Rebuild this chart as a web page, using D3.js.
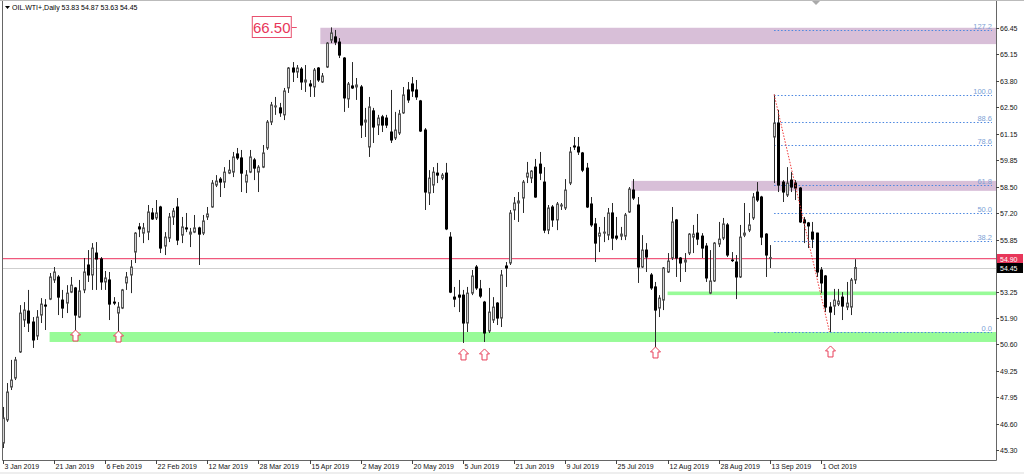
<!DOCTYPE html>
<html><head><meta charset="utf-8">
<script src="https://cdn.jsdelivr.net/npm/d3@7/dist/d3.min.js"></script>
<style>body{margin:0;background:#fff;overflow:hidden}svg{display:block;font-family:"Liberation Sans",Arial,sans-serif}</style>
</head><body><svg id="c" width="1024" height="474"></svg>
<script>
// ---- data: daily OHLC, OIL.WTI+, one row per bar from 3 Jan 2019 ----
const ohlc = [
[45.65,47.46,45.40,46.91],[46.81,48.66,46.71,48.21],[48.46,49.82,48.31,48.81],[48.91,49.97,48.81,49.82],[50.22,52.57,50.17,52.17],
[51.82,52.72,51.47,52.32],[52.27,53.33,51.22,51.67],[51.72,51.97,50.42,50.82],[51.02,52.32,50.82,51.97],[52.07,52.92,51.67,52.62],
[52.57,52.87,51.32,52.52],[52.87,54.18,52.82,53.98],[53.83,54.48,53.68,54.23],[53.98,54.08,52.07,52.97],[52.82,53.33,51.92,52.42],
[52.67,53.57,52.17,53.17],[53.22,53.98,53.17,53.57],[53.43,53.48,51.22,52.07],[51.97,53.83,51.92,53.28],[53.33,54.93,53.17,54.23],
[54.58,55.33,53.73,54.08],[54.08,55.68,53.33,55.43],[55.18,55.73,53.33,54.88],[54.88,54.98,53.33,53.73],[53.73,54.28,53.33,53.93],
[53.83,54.23,51.82,52.62],[52.72,52.97,52.57,52.67],[52.17,52.72,51.22,52.47],[52.42,53.38,52.37,53.33],[53.68,54.23,53.33,53.98],
[54.08,54.83,53.17,54.48],[55.23,56.23,54.68,56.18],[56.49,56.69,55.98,56.39],[56.18,56.69,55.68,56.44],[56.23,57.59,55.83,57.24],
[57.19,57.44,56.84,56.89],[56.94,57.84,56.84,57.19],[57.49,57.55,55.18,55.43],[55.53,56.23,55.08,55.98],[55.93,57.19,55.73,56.99],
[56.99,57.44,56.59,57.29],[57.49,57.94,55.58,55.83],[56.08,56.99,55.68,56.49],[56.44,57.19,56.23,56.39],[56.13,56.44,55.48,56.23],
[56.23,57.09,56.18,56.44],[56.44,56.50,54.58,56.13],[56.18,57.09,56.08,56.79],[56.99,57.49,56.84,57.14],[57.49,58.84,57.45,58.69],
[58.59,59.09,58.49,58.79],[58.89,58.99,57.99,58.74],[58.74,59.49,58.44,59.24],[59.19,59.85,59.14,59.34],[59.24,60.25,58.99,60.00],
[60.15,60.45,59.85,59.95],[59.95,60.35,58.24,59.19],[58.74,59.34,58.19,59.09],[59.24,60.35,59.19,60.00],[59.85,59.95,58.84,59.44],
[59.24,59.59,58.24,59.49],[59.49,60.60,59.44,60.20],[60.45,61.85,60.35,61.75],[61.75,62.76,61.60,62.61],[62.51,63.01,62.11,62.56],
[62.46,62.71,62.01,62.21],[62.11,63.46,61.85,63.31],[63.46,64.51,63.21,64.46],[64.46,64.76,63.76,64.26],[64.26,64.61,63.96,64.46],
[64.41,64.51,63.36,63.76],[63.76,64.61,63.26,63.86],[63.66,63.86,63.01,63.56],[63.51,64.46,63.01,64.36],[64.46,64.51,63.76,63.86],
[63.76,64.21,63.71,64.06],[64.51,65.76,64.46,65.71],[65.86,66.50,65.71,66.22],[66.02,66.37,65.61,65.76],[65.76,65.96,64.96,65.11],
[64.96,65.01,62.26,62.96],[62.91,63.76,62.46,63.66],[63.56,64.76,63.41,63.46],[63.51,63.96,62.86,63.61],[63.51,63.61,60.95,61.60],
[61.75,62.46,61.00,61.85],[60.50,63.01,60.00,62.51],[62.31,62.46,60.70,61.50],[61.60,62.11,61.10,61.95],[62.01,62.11,61.25,61.60],
[61.95,62.11,61.45,61.60],[61.25,63.36,60.70,60.85],[60.95,62.26,60.85,61.35],[61.20,62.36,61.10,62.16],[62.21,63.51,62.16,63.11],
[63.36,63.76,62.71,62.86],[63.66,64.01,63.01,63.31],[63.36,63.86,62.86,63.01],[62.81,62.86,61.25,61.30],[61.35,61.45,57.34,58.24],
[58.19,59.34,57.59,58.94],[58.59,59.49,58.19,59.24],[59.19,59.70,58.69,59.09],[58.94,59.19,58.84,59.09],[59.19,59.70,56.33,56.39],
[55.98,56.23,53.17,53.22],[52.97,53.48,52.47,52.87],[53.07,53.83,52.22,52.97],[53.07,53.33,50.67,51.67],[51.67,53.48,51.22,53.17],
[53.17,54.33,53.07,54.03],[54.48,54.58,53.33,53.43],[53.38,53.83,52.92,53.02],[52.72,52.78,50.72,51.17],[51.27,53.43,51.17,52.22],
[51.82,52.97,51.67,52.47],[52.67,52.72,51.57,51.92],[51.92,54.33,51.47,54.08],[54.53,54.73,53.48,54.43],[54.68,57.34,54.58,57.19],
[57.34,57.99,56.84,57.69],[57.69,58.24,56.74,57.79],[57.94,58.84,57.19,58.74],[58.99,59.75,58.69,59.19],[58.94,59.34,58.69,59.29],
[59.49,59.90,57.95,57.99],[59.64,60.25,58.84,59.19],[58.74,59.49,56.18,56.33],[56.33,57.59,56.13,57.44],[57.49,57.59,56.49,56.84],
[56.84,57.74,56.33,57.64],[57.54,57.69,57.34,57.59],[57.44,58.89,57.34,58.34],[58.69,60.50,58.59,60.25],[60.55,61.00,60.35,60.50],
[60.50,61.00,60.10,60.25],[60.20,60.25,59.24,59.34],[59.44,59.70,57.44,57.49],[57.64,57.99,56.49,56.59],[56.64,56.94,54.73,55.68],
[56.03,56.49,55.23,56.18],[56.18,56.99,55.73,56.23],[56.08,57.44,55.83,57.19],[57.19,57.69,55.33,55.93],[56.03,56.99,55.83,55.93],
[56.03,56.49,55.83,56.13],[56.03,57.19,55.83,57.09],[57.24,58.49,57.19,58.39],[58.34,58.89,57.84,57.94],[57.59,57.99,53.68,54.48],
[54.48,56.08,54.43,55.33],[55.33,55.68,54.23,54.98],[54.08,54.18,53.33,53.43],[53.48,53.73,50.47,52.32],[52.42,53.07,51.97,52.92],
[52.82,54.48,52.32,54.43],[54.23,55.18,54.18,54.78],[54.93,57.49,54.83,56.74],[56.84,56.89,53.98,54.93],[54.93,54.98,53.73,54.68],
[54.73,55.18,54.23,54.83],[55.18,56.18,55.08,56.13],[55.98,56.59,55.18,56.13],[56.18,57.14,55.58,55.88],[56.03,56.18,54.93,55.43],
[55.53,55.68,53.73,53.93],[53.17,55.33,53.12,53.78],[53.78,55.73,53.73,55.68],[55.63,56.74,55.48,55.88],[55.93,56.94,55.83,56.64],
[56.59,56.69,54.98,55.08],[54.83,55.23,54.73,54.81],[54.73,55.08,52.87,53.98],[53.98,56.59,53.93,55.98],[56.08,57.69,55.98,56.18],
[56.33,57.19,56.23,56.59],[56.94,58.19,56.84,57.99],[58.24,58.74,57.74,57.84],[57.99,58.05,55.58,55.98],[56.13,56.18,53.98,55.08],
[54.93,55.58,54.43,54.95],[61.00,63.13,58.69,61.70],[61.70,62.36,58.24,58.59],[58.74,58.84,57.74,58.24],[58.09,59.49,57.99,58.69],
[58.84,59.24,58.24,58.49],[58.69,58.84,57.84,58.44],[58.44,58.49,56.69,56.74],[56.84,56.99,55.68,56.69],[56.69,56.74,55.43,56.54],
[56.23,56.74,55.43,55.88],[56.18,56.20,53.98,54.23],[54.33,54.48,53.17,53.68],[54.03,54.08,52.22,52.47],[52.47,52.72,51.22,52.22],
[52.52,53.38,52.07,52.82],[52.62,53.38,52.52,52.77],[52.97,53.22,51.82,52.52],[52.47,53.73,52.32,52.67],[52.47,53.93,52.07,53.83],
[53.83,54.87,53.63,54.45]
];
// date labels on the time axis, one every 12 bars
const dateLabels = ["3 Jan 2019","21 Jan 2019","6 Feb 2019","22 Feb 2019","12 Mar 2019","28 Mar 2019","15 Apr 2019","2 May 2019",
  "20 May 2019","5 Jun 2019","21 Jun 2019","9 Jul 2019","25 Jul 2019","12 Aug 2019","28 Aug 2019","13 Sep 2019","1 Oct 2019"];
const dateLabelEvery = 12;
// price axis tick labels
const priceTicks = [66.45,65.15,63.80,62.50,61.15,59.85,58.50,57.20,55.85,53.25,51.90,50.60,49.25,47.95,46.60,45.30];
// supply (purple) and demand (green) zones: [start bar, upper price, lower price]
const supplyZones = [[75,66.48,65.66],[148,58.80,58.30]];
const demandZones = [[11,51.22,50.72],[156,53.25,53.07]];
// up-arrow markers: bar index and price of tip
const arrowBars = [17,27,108,113,153,194];
const arrowPrices = [51.32,51.27,50.37,50.37,50.47,50.52];
// fibonacci retracement: anchors (bar, price) and levels
const fibHigh = [181,63.13], fibLow = [194,51.22];
const fibLevels = [0,38.2,50,61.8,78.6,88.6,100,127.2];
const alertLine = 54.90, bidLine = 54.45;
const peakLabel = {bar:69, price:66.50, text:"66.50"};
const title = "OIL.WTI+,Daily  53.83 54.87 53.63 54.45";

// ---- drawing ----
const svg = d3.select("#c");
const L = 2, R = 996, T = 0, B = 460;
const x = d3.scaleLinear().domain([0, ohlc.length - 1]).range([2.7, 855.1]);
const y = d3.scaleLinear().domain([44.80, 67.17]).range([B, 14]);

svg.append("defs").append("clipPath").attr("id","pc").append("rect")
  .attr("x",L).attr("y",T).attr("width",R-L).attr("height",B-T);
const g = svg.append("g").attr("clip-path","url(#pc)");

// zones
g.selectAll("rect.sz").data(supplyZones).join("rect").attr("class","sz")
  .attr("x",d=>x(d[0])-2).attr("y",d=>y(d[1])).attr("width",d=>R-x(d[0])+2).attr("height",d=>y(d[2])-y(d[1]))
  .attr("fill","#d8bfd8");
g.selectAll("rect.dz").data(demandZones).join("rect").attr("class","dz")
  .attr("x",d=>x(d[0])).attr("y",d=>y(d[1])).attr("width",d=>R-x(d[0])).attr("height",d=>y(d[2])-y(d[1]))
  .attr("fill","#98fb98");

// fib levels
const fibRange = fibHigh[1] - fibLow[1];
const fx0 = x(fibHigh[0]);
fibLevels.forEach(lv => {
  const p = fibLow[1] + fibRange * lv / 100;
  const yy = Math.round(y(p)) + 0.5;
  g.append("line").attr("x1",fx0).attr("x2",R-4).attr("y1",yy).attr("y2",yy)
    .attr("stroke","#4a86e0").attr("stroke-width",1).attr("stroke-dasharray","1.5,2");
  g.append("text").attr("x",R-4).attr("y",yy-1.5).attr("text-anchor","end")
    .attr("font-size",7.5).attr("fill","#7d9fd6").text(lv.toFixed(1));
});

// horizontal lines
g.append("line").attr("x1",L).attr("x2",R).attr("y1",Math.round(y(bidLine))+0.5).attr("y2",Math.round(y(bidLine))+0.5)
  .attr("stroke","#cfcfcf");
g.append("line").attr("x1",L).attr("x2",R).attr("y1",y(alertLine)).attr("y2",y(alertLine))
  .attr("stroke","#f0587c").attr("stroke-width",1.3);

// candles
const cx = i => Math.round(x(i));
const cg = g.append("g");
cg.selectAll("line.w").data(ohlc).join("line").attr("class","w")
  .attr("x1",(d,i)=>cx(i)+0.5).attr("x2",(d,i)=>cx(i)+0.5)
  .attr("y1",d=>y(d[1])).attr("y2",d=>y(d[2]))
  .attr("stroke","#2a2a2a").attr("stroke-width",1);
cg.selectAll("rect.b").data(ohlc).join("rect").attr("class","b")
  .attr("x",(d,i)=>cx(i)-0.5).attr("width",2)
  .attr("y",d=>y(Math.max(d[0],d[3])))
  .attr("height",d=>Math.max(0.6, Math.abs(y(d[0])-y(d[3]))))
  .attr("fill",d=>d[3]>=d[0] ? "#d4d4d4" : "#000")
  .attr("stroke",d=>d[3]>=d[0] ? "#555" : "#000").attr("stroke-width",1);

// red dotted trend line across the fib swing
g.append("line").attr("x1",x(fibHigh[0])).attr("y1",y(fibHigh[1])).attr("x2",x(fibLow[0])).attr("y2",y(fibLow[1]))
  .attr("stroke","#f03a3a").attr("stroke-width",1).attr("stroke-dasharray","1.5,1.5");

// arrows
arrowBars.forEach((b,k) => {
  const ax = cx(b)+0.5, ay = y(arrowPrices[k]);
  g.append("path").attr("transform",`translate(${ax},${ay})`)
    .attr("d","M0,0L5,5L2.5,5L2.5,11L-2.5,11L-2.5,5L-5,5Z")
    .attr("fill","#fff").attr("stroke","#e8405a").attr("stroke-width",1);
});

// peak price label
{
  const px = x(peakLabel.bar), py = y(peakLabel.price);
  g.append("line").attr("x1",px-5).attr("x2",px).attr("y1",Math.round(py)+0.5).attr("y2",Math.round(py)+0.5)
    .attr("stroke","#e8506e");
  g.append("rect").attr("x",px-44.5).attr("y",Math.round(py)-10.5).attr("width",39).attr("height",21)
    .attr("fill","#fff").attr("stroke","#e8506e");
  g.append("text").attr("x",px-25).attr("y",Math.round(py)+5.5).attr("text-anchor","middle")
    .attr("font-size",15).attr("fill","#e8365a").text(peakLabel.text);
}

// frame
svg.append("path").attr("d",`M${L+0.5},${T}V${B+0.5}H${R+0.5}V${T}`).attr("fill","none").attr("stroke","#666");
svg.append("rect").attr("x",0).attr("y",0).attr("width",1024).attr("height",1).attr("fill","#bbb");

// price axis
const ya = svg.append("g");
priceTicks.forEach(p => {
  const yy = Math.round(y(p)) + 0.5;
  ya.append("line").attr("x1",R).attr("x2",R+3).attr("y1",yy).attr("y2",yy).attr("stroke","#444");
  ya.append("text").attr("x",R+4).attr("y",yy+2.5).attr("font-size",7).attr("fill","#111").text(p.toFixed(2));
});
[[alertLine,"#e8365a"],[bidLine,"#000"]].forEach(([p,c]) => {
  const yy = Math.round(y(p));
  ya.append("rect").attr("x",R+1).attr("y",yy-5).attr("width",26).attr("height",10).attr("fill",c);
  ya.append("text").attr("x",R+4).attr("y",yy+2.5).attr("font-size",7).attr("fill","#fff").text(p.toFixed(2));
});

// time axis
const xa = svg.append("g");
dateLabels.forEach((t,k) => {
  const xx = cx(k*dateLabelEvery)+0.5;
  xa.append("line").attr("x1",xx).attr("x2",xx).attr("y1",B).attr("y2",B+4).attr("stroke","#444");
  xa.append("text").attr("x",xx+1).attr("y",B+9).attr("font-size",7).attr("fill","#111").text(t);
});
svg.append("rect").attr("x",0).attr("y",472).attr("width",1024).attr("height",2).attr("fill","#eee");

// title
svg.append("path").attr("d","M5,6H10L7.5,9Z").attr("fill","#000");
svg.append("text").attr("x",12).attr("y",10).attr("font-size",7).attr("fill","#000").text(title);
svg.append("path").attr("d","M812,1H820L816,5Z").attr("fill","#aaa");
</script></body></html>
